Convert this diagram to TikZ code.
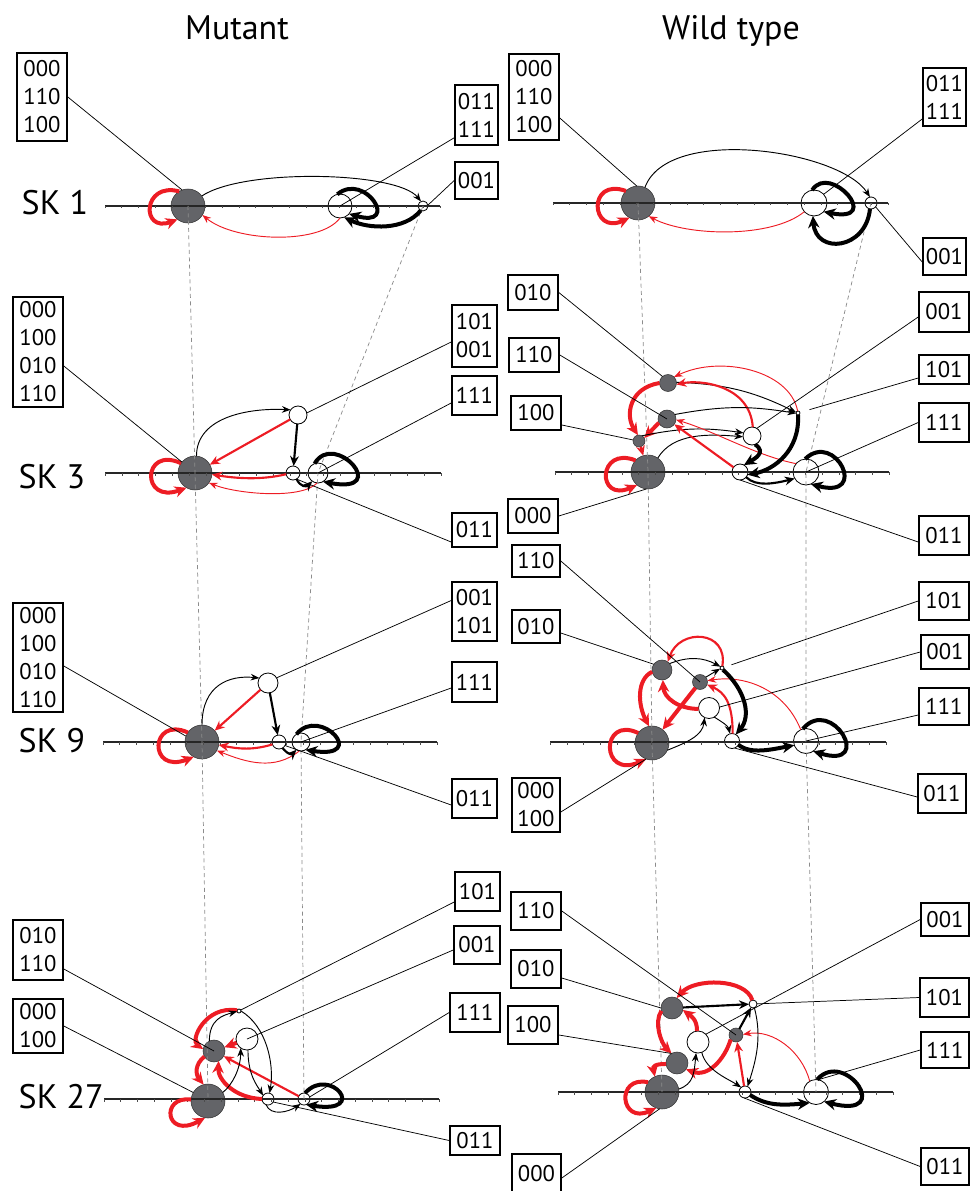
\documentclass[tikz,border=0pt]{standalone}
\usepackage{fontspec}
\setmainfont{PT Sans}
\usetikzlibrary{arrows.meta,calc}
\definecolor{stategray}{RGB}{99,100,104}
\definecolor{sred}{RGB}{237,28,36}
\newcommand\labfont{\fontsize{17pt}{21pt}\selectfont}
\newcommand\bigfont{\fontsize{25.5pt}{30pt}\selectfont}
% label box: name, x1, y1, x2, y2 (pixel grid, y downwards), text
\newcommand\labbox[6]{\node[lbox, minimum width={0.75pt*(#4-#2)}, minimum height={0.75pt*(#5-#3)}] (#1) at ({(#2+#4)/2},{-(#3+#5)/2}) {#6};}
% state discs: name, x, y, radius
\newcommand\gst[4]{\node[gstate, minimum size={1.5pt*#4}] (#1) at (#2,-#3) {};}
\newcommand\wst[4]{\node[wstate, minimum size={1.5pt*#4}] (#1) at (#2,-#3) {};}
% axis with 20 ticks: x1, x2, y
\newcommand\axisat[3]{\draw[axisline] (#1,-#3) -- (#2,-#3);
  \foreach \i in {0,...,20}{\draw[axtick] ({#1+\i*(#2-#1)/20},-#3) -- ++(0,-2.5);}}
\tikzset{
  gstate/.style={circle, draw=black!80, line width=0.4pt, fill=stategray, inner sep=0pt, outer sep=0pt},
  wstate/.style={circle, draw=black, line width=0.6pt, fill=white, inner sep=0pt, outer sep=0pt},
  lbox/.style={draw=black, line width=1.2pt, inner sep=0pt, font=\labfont, align=center},
  lead/.style={draw=black, line width=0.55pt},
  axisline/.style={draw=black!85, line width=0.9pt},
  axtick/.style={draw=black!70, line width=0.45pt},
  proj/.style={draw=black!45, line width=0.55pt, dash pattern=on 3pt off 2.5pt},
  bthin/.style={draw=black, line width=0.7pt, -{Stealth[length=6.5pt,width=5pt]}},
  bmid/.style={draw=black, line width=1.6pt, -{Stealth[length=7.5pt,width=6.5pt]}},
  bthick/.style={draw=black, line width=3pt, -{Stealth[length=9pt,width=8.5pt]}},
  rthin/.style={draw=sred, line width=0.7pt, -{Stealth[length=6.5pt,width=5pt]}},
  rmid/.style={draw=sred, line width=1.6pt, -{Stealth[length=7.5pt,width=6.5pt]}},
  rthick/.style={draw=sred, line width=3pt, -{Stealth[length=9pt,width=8.5pt]}},
}
\begin{document}
\begin{tikzpicture}[x=0.75pt,y=0.75pt]
\useasboundingbox (0,0) rectangle (972,-1191);

% ---------- headings ----------
\node[anchor=base, font=\bigfont] (tm) at (237,-40) {Mutant};
\node[anchor=base, font=\bigfont] (tw) at (731,-40) {Wild type};
\node[anchor=base west, font=\bigfont] (sk1) at (17,-215) {SK 1};
\node[anchor=base west, font=\bigfont] (sk3) at (14,-488) {SK 3};
\node[anchor=base west, font=\bigfont] (sk9) at (14,-752) {SK 9};
\node[anchor=base west, font=\bigfont] (sk27) at (14,-1108) {SK 27};

% ---------- states ----------
% SK 1, mutant
\gst{m1A}{188}{206}{17}
\wst{m1B}{340}{206}{12}
\wst{m1C}{423}{206}{5}
% SK 1, wild type
\gst{w1A}{638}{203}{17}
\wst{w1B}{814}{203}{13}
\wst{w1C}{871}{203}{6}
% SK 3, mutant
\gst{m3A}{195}{473}{17}
\wst{m3D}{298}{415}{9}
\wst{m3E}{293}{473}{7}
\wst{m3F}{318}{473}{10}
% SK 3, wild type
\gst{w3A}{648}{472}{17}
\gst{w3G}{668}{383}{8.5}
\gst{w3H}{667}{419}{9}
\gst{w3I}{639}{441}{6}
\wst{w3J}{752}{436}{9}
\wst{w3K}{798}{413}{2}
\wst{w3L}{740}{472}{8}
\wst{w3M}{806}{472}{13}
% SK 9, mutant
\gst{m9A}{202}{742}{17}
\wst{m9D}{268}{683}{10}
\wst{m9E}{279}{742}{7}
\wst{m9F}{301}{742}{9}
% SK 9, wild type
\gst{w9A}{652}{743}{17}
\gst{w9G}{662}{670}{10}
\gst{w9H}{700}{682}{7.5}
\wst{w9J}{709}{708}{10.5}
\wst{w9K}{722}{668}{2}
\wst{w9L}{732}{741}{7.5}
\wst{w9M}{806}{741}{12.5}
% SK 27, mutant
\gst{m27A}{208}{1101}{17}
\gst{m27G}{214}{1051}{11}
\wst{m27J}{247}{1039}{11}
\wst{m27K}{239}{1011}{2}
\wst{m27L}{268}{1099}{6}
\wst{m27M}{304}{1099}{6}
% SK 27, wild type
\gst{w27A}{662}{1092}{17}
\gst{w27G}{672}{1008}{11}
\gst{w27I}{677}{1063}{11}
\gst{w27H}{736}{1035}{7}
\wst{w27J}{698}{1042}{11}
\wst{w27K}{753}{1004}{4}
\wst{w27L}{745}{1092}{6}
\wst{w27M}{816}{1092}{12.5}

% ---------- axes ----------
\axisat{105}{440}{206}
\axisat{553}{888}{203}
\axisat{105}{441}{473}
\axisat{555}{889}{472}
\axisat{103}{437}{742}
\axisat{550}{886}{742}
\axisat{104}{439}{1099}
\axisat{558}{893}{1092}

% ---------- projection lines between panels ----------
\draw[proj] (m1A.center) -- (m3A.center) -- (m9A.center) -- (m27A.center);
\draw[proj] (m1C.center) -- (m3F.center) -- (m9F.center) -- (m27M.center);
\draw[proj] (w1A.center) -- (w3A.center) -- (w9A.center) -- (w27A.center);
\draw[proj] (w1C.center) -- (w3M.center) -- (w9M.center) -- (w27M.center);

% ---------- label boxes ----------
\labbox{m1bA}{17}{53}{67}{141}{000\\110\\100}
\labbox{m1bB}{455}{85}{498}{145}{011\\111}
\labbox{m1bC}{455}{162}{498}{199}{001}
\labbox{w1bA}{509}{54}{559}{140}{000\\110\\100}
\labbox{w1bB}{923}{68}{966}{126}{011\\111}
\labbox{w1bC}{923}{238}{966}{275}{001}
\labbox{m3bA}{13}{297}{63}{407}{000\\100\\010\\110}
\labbox{m3bD}{452}{305}{497}{367}{101\\001}
\labbox{m3bF}{452}{376}{497}{415}{111}
\labbox{m3bE}{452}{513}{497}{547}{011}
\labbox{w3bG}{508}{275}{558}{310}{010}
\labbox{w3bH}{509}{338}{559}{372}{110}
\labbox{w3bI}{511}{396}{561}{430}{100}
\labbox{w3bA}{508}{499}{558}{533}{000}
\labbox{w3bJ}{919}{292}{969}{332}{001}
\labbox{w3bK}{919}{355}{969}{384}{101}
\labbox{w3bM}{919}{403}{969}{442}{111}
\labbox{w3bL}{919}{516}{969}{555}{011}
\labbox{m9bA}{13}{603}{63}{712}{000\\100\\010\\110}
\labbox{m9bD}{452}{582}{497}{641}{001\\101}
\labbox{m9bF}{452}{662}{497}{702}{111}
\labbox{m9bE}{452}{779}{497}{818}{011}
\labbox{w9bH}{512}{545}{560}{577}{110}
\labbox{w9bG}{512}{610}{560}{643}{010}
\labbox{w9bA}{512}{778}{560}{832}{000\\100}
\labbox{w9bK}{919}{582}{969}{620}{101}
\labbox{w9bJ}{921}{635}{969}{669}{001}
\labbox{w9bM}{919}{688}{969}{725}{111}
\labbox{w9bL}{918}{774}{966}{813}{011}
\labbox{m27bG}{13}{920}{63}{980}{010\\110}
\labbox{m27bA}{13}{999}{63}{1053}{000\\100}
\labbox{m27bK}{455}{872}{500}{911}{101}
\labbox{m27bJ}{454}{926}{500}{964}{001}
\labbox{m27bM}{450}{993}{500}{1032}{111}
\labbox{m27bL}{450}{1126}{500}{1155}{011}
\labbox{w27bH}{511}{892}{561}{930}{110}
\labbox{w27bG}{511}{950}{561}{988}{010}
\labbox{w27bI}{508}{1006}{558}{1044}{100}
\labbox{w27bA}{512}{1154}{561}{1193}{000}
\labbox{w27bJ}{921}{903}{969}{936}{001}
\labbox{w27bK}{920}{978}{969}{1017}{101}
\labbox{w27bM}{921}{1032}{969}{1068}{111}
\labbox{w27bL}{921}{1148}{969}{1185}{011}

% ---------- transitions: SK 1 ----------
\draw[rthick] (m1A.121) .. controls +(-37,10) and +(-37,-14) .. (m1A.232);
\draw[bthin] (m1A.36) .. controls +(42,28) and +(-24,30) .. (m1C.114);
\draw[rthin] (m1B.270) .. controls +(-20,-27) and +(33,-27) .. (m1A.328);
\draw[bthick] (m1B.103) .. controls +(28,23) and +(52,-15) .. (m1B.319);
\draw[bthick] (m1C.243) .. controls +(-16,-20) and +(25,-12) .. (m1B.290);

\draw[rthick] (w1A.135) .. controls +(-39,14) and +(-39,-18) .. (w1A.240);
\draw[bthin] (w1A.66) .. controls +(23,63) and +(-30,47) .. (w1C.100);
\draw[rthin] (w1B.222) .. controls +(-33,-27) and +(38,-20) .. (w1A.309);
\draw[bthick] (w1B.98) .. controls +(18,28) and +(60,-12) .. (w1B.318);
\draw[bthick] (w1C.260) .. controls +(-4,-41) and +(3,-39) .. (w1B.265);

% ---------- transitions: SK 3 ----------
\draw[rthick] (m3A.145) .. controls +(-39,18) and +(-46,-17) .. (m3A.240);
\draw[bthin] (m3A.85) .. controls +(0,40) and +(-40,2) .. (m3D.145);
\draw[rmid] (m3D) -- (m3A);
\draw[bmid] (m3D) -- (m3E);
\draw[rmid] (m3E.190) .. controls +(-25,-6) and +(25,-4) .. (m3A.355);
\draw[rthin] (m3F.265) .. controls +(-16,-17) and +(27,-11) .. (m3A.325);
\draw[bthick] (m3F.110) .. controls +(20,34) and +(69,-13) .. (m3F.300);
\draw[bmid] (m3E.300) .. controls +(4,-8) and +(-6,-6) .. (m3F.235);

\draw[rthick] (w3A.137) .. controls +(-38,15) and +(-41,-18) .. (w3A.230);
\draw[rthick] (w3G.180) .. controls +(-30,-5) and +(-13,20) .. (w3I.100);
\draw[rthick] (w3H.205) -- (w3I.30);
\draw[rmid] (w3I) -- (w3A);
\draw[rthin] (w3K.100) .. controls +(-8,41) and +(46,22) .. (w3G.45);
\draw[bthin] (w3G.5) to[bend left=12] (w3K.160);
\draw[rmid] (w3J.85) .. controls +(-3,42) and +(24,5) .. (w3G.350);
\draw[bthin] (w3H.30) to[bend left=10] (w3K.190);
\draw[bthin] (w3I.60) to[bend left=10] (w3J.160);
\draw[bthin] (w3A.55) .. controls +(15,25) and +(-35,3) .. (w3J.185);
\draw[rmid] (w3L) -- (w3H);
\draw[rthin] (w3M.140) .. controls +(-40,8) and +(40,-12) .. (w3H.355);
\draw[bthick] (w3K.270) .. controls +(2,-35) and +(27,5) .. (w3L.340);
\draw[bthick] (w3J.290) .. controls +(12,-8) and +(10,6) .. (w3L.60);
\draw[bmid] (w3L.320) .. controls +(10,-10) and +(-20,-5) .. (w3M.210);
\draw[bthick] (w3M.94) .. controls +(30,29) and +(59,-16) .. (w3M.292);

% ---------- transitions: SK 9 ----------
\draw[rthick] (m9A.146) .. controls +(-38,17) and +(-46,-18) .. (m9A.241);
\draw[bthin] (m9A.90) .. controls +(0,40) and +(-30,3) .. (m9D.150);
\draw[rmid] (m9D) -- (m9A);
\draw[bmid] (m9D) -- (m9E);
\draw[rmid] (m9E.200) .. controls +(-20,-6) and +(20,-4) .. (m9A.350);
\draw[rthin] (m9F.260) .. controls +(-25,-20) and +(30,-12) .. (m9A.330);
\draw[bthick] (m9F.120) .. controls +(23.5,29) and +(64,-10) .. (m9F.300);
\draw[bmid] (m9E.300) .. controls +(5,-6) and +(-5,-5) .. (m9F.240);

\draw[rthick] (w9A.144) .. controls +(-38,18) and +(-46,-21) .. (w9A.250);
\draw[rthick] (w9G.190) .. controls +(-16,-8) and +(-11,21) .. (w9A.100);
\draw[rthick] (w9H) -- (w9A);
\draw[rthick] (w9J.185) .. controls +(-20,0) and +(1,-18) .. (w9G.275);
\draw[rmid] (w9K.80) .. controls +(6,36) and +(12,34) .. (w9G.55);
\draw[bthin] (w9G.40) to[bend left=25] (w9K.140);
\draw[bthin] (w9H.40) -- (w9K.200);
\draw[rmid] (w9L.85) .. controls +(0,30) and +(18,-8) .. (w9H.340);
\draw[rthin] (w9M.115) .. controls +(-16,40) and +(38,6) .. (w9H.10);
\draw[bthick] (w9K.300) .. controls +(22,-20) and +(16,19) .. (w9L.60);
\draw[bthin] (w9J.300) .. controls +(8,-5) and +(-2,8) .. (w9L.105);
\draw[bthin] (w9A.335) .. controls +(20,8) and +(-2,-18) .. (w9J.245);
\draw[bthick] (w9L.330) .. controls +(12,-10) and +(-22,-4) .. (w9M.200);
\draw[bthick] (w9M.105) .. controls +(29,34) and +(62,-19) .. (w9M.305);

% ---------- transitions: SK 27 ----------
\draw[rthick] (m27A.175) .. controls +(-31,4) and +(-40,-22) .. (m27A.260);
\draw[rthick] (m27G.210) .. controls +(-10,-8) and +(-8,10) .. (m27A.105);
\draw[rthick] (m27K.160) .. controls +(-32,5) and +(-13,9) .. (m27G.170);
\draw[rthick] (m27J) -- (m27G);
\draw[rthick] (m27L.180) .. controls +(-27,1) and +(-1,-19) .. (m27G.295);
\draw[rmid] (m27M) -- (m27G);
\draw[bthin] (m27G.115) .. controls +(0,22) and +(-14,-4) .. (m27K.190);
\draw[bthin] (m27A.30) .. controls +(10,8) and +(0,-20) .. (m27J.235);
\draw[bthin] (m27K.0) .. controls +(25,-15) and +(5,30) .. (m27L.75);
\draw[bthin] (m27J.275) .. controls +(0,-25) and +(-6,10) .. (m27L.145);
\draw[bthin] (m27L.250) .. controls +(5,-12) and +(-12,-8) .. (m27M.235);
\draw[bthick] (m27M.80) .. controls +(25,28) and +(64,-10) .. (m27M.290);

\draw[rthick] (w27A.145) .. controls +(-33,7) and +(-36,-17) .. (w27A.250);
\draw[rthick] (w27I.185) .. controls +(-12,0) and +(-2,10) .. (w27A.115);
\draw[rthick] (w27G.195) .. controls +(-8,-12) and +(-10,10) .. (w27I.120);
\draw[rthick] (w27K.100) .. controls +(-7,22) and +(18,20) .. (w27G.65);
\draw[rthick] (w27J.95) .. controls +(0,12) and +(8,-6) .. (w27G.350);
\draw[rthick] (w27H.220) .. controls +(-6,-20) and +(22,-8) .. (w27I.325);
\draw[rmid] (w27L) -- (w27H);
\draw[rthin] (w27M.120) .. controls +(-8,30) and +(30,5) .. (w27H.5);
\draw[bmid] (w27G) -- (w27K);
\draw[bmid] (w27H) -- (w27K);
\draw[bthin] (w27A.10) .. controls +(15,5) and +(-2,-20) .. (w27J.260);
\draw[bthin] (w27J.290) .. controls +(4,-18) and +(-12,8) .. (w27L.130);
\draw[bthin] (w27K.290) .. controls +(8,-30) and +(8,25) .. (w27L.65);
\draw[bthick] (w27L.330) .. controls +(15,-10) and +(-30,-3) .. (w27M.240);
\draw[bthick] (w27M.85) .. controls +(28,31.5) and +(71,-18.4) .. (w27M.310);

% ---------- leader lines from label boxes ----------
\draw[lead] (m1bA.east) -- (m1A.110);
\draw[lead] ($(m1bB.south west)+(0,8)$) -- (m1B.center);
\draw[lead] (m1bC.west) -- (m1C.10);
\draw[lead] ($(w1bA.east)+(0,-21)$) -- (w1A.94);
\draw[lead] ($(w1bB.west)+(0,-22)$) -- (w1B.42);
\draw[lead] ($(w1bC.west)+(0,-5.5)$) -- (w1C.320);

\draw[lead] ($(m3bA.east)+(0,-14)$) -- (m3A.140);
\draw[lead] ($(m3bD.west)+(0,-6)$) -- (m3D.13);
\draw[lead] ($(m3bF.west)+(0,-7.5)$) -- (m3F.center);
\draw[lead] ($(m3bE.west)+(0,-12)$) -- (m3E.300);
\draw[lead] (w3bG.east) -- (w3G.130);
\draw[lead] (w3bH.east) -- (w3H.center);
\draw[lead] ($(w3bI.east)+(0,-12)$) -- (w3I.170);
\draw[lead] (w3bA.east) -- (w3A.265);
\draw[lead] ($(w3bJ.west)+(0,-5)$) -- (w3J.58);
\draw[lead, shorten >=7.5pt] ($(w3bK.west)+(0,-8.5)$) -- (w3K);
\draw[lead] (w3bM.west) -- (w3M.center);
\draw[lead] ($(w3bL.west)+(0,-6.5)$) -- (w3L.270);

\draw[lead] ($(m9bA.east)+(0,-8.5)$) -- (m9A.160);
\draw[lead] ($(m9bD.west)+(0,11)$) -- (m9D.31);
\draw[lead] ($(m9bF.west)+(0,-6)$) -- (m9F.center);
\draw[lead] ($(m9bE.west)+(0,-6.5)$) -- (m9E.330);
\draw[lead] (w9bH.east) -- (w9H.center);
\draw[lead] ($(w9bG.east)+(0,-6.5)$) -- (w9G.145);
\draw[lead] ($(w9bA.east)+(0,-7)$) -- (w9A.250);
\draw[lead, shorten >=6pt] (w9bK.west) -- (w9K);
\draw[lead] (w9bJ.west) -- (w9J.5);
\draw[lead] ($(w9bM.west)+(0,-8.5)$) -- (w9M.center);
\draw[lead] ($(w9bL.west)+(0,-3.5)$) -- (w9L.290);

\draw[lead] ($(m27bG.east)+(0,-19)$) -- (m27G.center);
\draw[lead] (m27bA.east) -- (m27A.150);
\draw[lead] ($(m27bK.west)+(0,-10.5)$) -- (m27K.30);
\draw[lead] ($(m27bJ.west)+(0,-5)$) -- (m27J.center);
\draw[lead] (m27bM.west) -- (m27M.20);
\draw[lead] (m27bL.west) -- (m27L.330);
\draw[lead] (w27bH.east) -- (w27H.center);
\draw[lead] ($(w27bG.east)+(0,-9)$) -- (w27G.180);
\draw[lead] ($(w27bI.east)+(0,-10)$) -- (w27I.120);
\draw[lead] ($(w27bA.east)+(0,-4.5)$) -- (w27A.262);
\draw[lead] (w27bJ.west) -- (w27J.45);
\draw[lead] (w27bK.west) -- (w27K);
\draw[lead] (w27bM.west) -- (w27M.80);
\draw[lead] (w27bL.west) -- (w27L.260);
\end{tikzpicture}
\end{document}
